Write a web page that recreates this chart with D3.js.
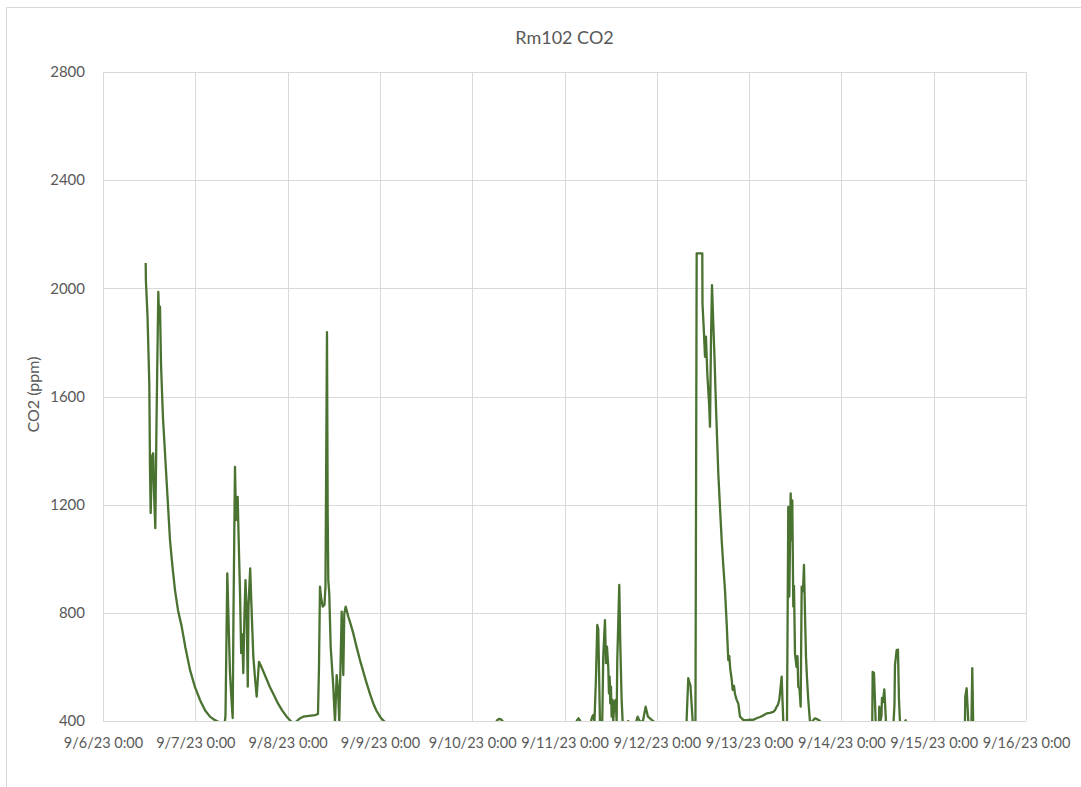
<!DOCTYPE html>
<html>
<head>
<meta charset="utf-8">
<script src="https://cdn.jsdelivr.net/npm/d3@7"></script>
<style>
  html, body { margin: 0; padding: 0; background: #fff; }
  svg { display: block; font-family: Lato, "Open Sans", sans-serif; }
</style>
</head>
<body>
<svg id="chart" width="1081" height="787"></svg>
<script>
// ---- data ----
const chartTitle = "Rm102 CO2";
const yAxisTitle = "CO2 (ppm)";
const startDate = new Date(2023, 8, 6, 0, 0);
const tickDates = ["2023-09-06","2023-09-07","2023-09-08","2023-09-09","2023-09-10","2023-09-11","2023-09-12","2023-09-13","2023-09-14","2023-09-15","2023-09-16"];
const tickLabels = ["9/6/23 0:00","9/7/23 0:00","9/8/23 0:00","9/9/23 0:00","9/10/23 0:00","9/11/23 0:00","9/12/23 0:00","9/13/23 0:00","9/14/23 0:00","9/15/23 0:00","9/16/23 0:00"];
const yTicks = [400, 800, 1200, 1600, 2000, 2400, 2800];

// hours since 9/6/23 0:00
const hours = [
  11.10,11.15,11.57,12.04,12.22,12.40,12.61,12.82,13.05,13.26,13.60,13.91,14.38,14.64,14.82,15.08,15.26,15.60,16.12,16.77,17.42,18.07,18.72,19.50,20.46,21.45,22.62,23.92,25.22,26.52,27.82,28.86,29.98,30.94,
  31.59,31.85,32.32,32.63,33.02,33.41,33.72,33.93,34.32,34.58,35.02,35.28,35.62,35.93,36.22,36.48,36.79,37.05,37.31,37.65,37.83,38.27,38.61,39.08,39.52,39.96,40.56,41.34,42.38,43.42,44.46,45.50,46.54,47.76,48.62,49.14,
  49.53,50.31,51.22,52.08,53.04,54.08,55.12,55.90,56.16,56.42,56.68,57.12,57.59,57.85,58.24,58.42,58.58,58.84,59.20,59.88,60.32,60.76,61.10,61.44,61.75,62.06,62.48,62.74,63.10,63.78,64.35,65.08,65.91,66.82,67.73,68.57,69.42,70.28,71.11,72.02,72.80,73.32,74.10,
  82.42,92.82,101.92,102.44,102.96,103.48,104.00,104.52,113.62,122.72,123.24,123.63,124.02,124.54,
  126.62,127.22,127.48,127.79,128.18,128.52,128.78,129.22,129.82,130.08,130.52,130.78,131.04,131.38,131.56,131.74,131.90,132.08,132.26,132.52,132.68,132.94,133.30,133.56,133.72,134.24,134.50,134.86,135.12,135.72,136.58,137.02,138.58,139.02,139.62,140.40,141.10,141.70,142.67,143.52,144.30,
  150.02,151.71,152.18,152.44,152.75,153.33,153.67,154.05,154.37,155.83,155.88,156.27,156.53,156.79,157.13,157.64,157.83,158.09,158.35,158.69,159.00,159.39,159.99,160.43,160.87,161.29,161.73,162.17,162.59,162.85,163.11,163.42,163.73,164.07,164.33,164.72,165.19,165.63,166.49,167.45,168.23,169.01,169.97,170.83,171.61,172.57,173.43,174.29,174.73,175.17,175.51,175.85,176.16,176.47,176.68,176.89,177.33,177.85,
  178.19,178.45,178.81,179.02,179.23,179.49,179.67,179.93,180.32,180.58,180.79,181.10,181.41,181.67,182.01,182.27,182.53,182.79,183.05,183.39,183.83,184.35,185.13,185.91,186.43,186.95,
  199.43,200.03,200.13,200.47,200.91,201.25,201.77,201.85,202.16,202.42,202.55,202.81,203.15,203.41,203.59,204.11,205.54,205.80,205.93,206.37,206.71,206.97,207.23,207.75,208.53,208.71,208.92,
  223.61,224.13,224.21,224.57,224.78,224.99,225.29,225.82,226.03,226.26,226.60
];
const co2 = [
  2094,2030,1900,1648,1328,1169,1300,1383,1390,1250,1113,1500,1987,1871,1932,1724,1650,1520,1391,1230,1069,970,884,810,749,670,589,525,478,440,416,405,397,385,
  385,420,946,780,577,480,411,800,1340,1143,1229,1069,880,651,720,577,800,921,823,527,823,964,823,640,560,490,619,595,560,525,495,465,440,416,403,395,
  385,399,410,416,418,420,422,426,600,897,860,823,830,900,1838,1169,921,868,675,527,395,570,520,395,600,804,570,798,823,786,760,724,675,625,580,539,500,465,438,416,403,397,385,
  370,370,385,402,408,406,398,385,370,385,402,410,402,385,
  385,416,422,398,560,755,740,397,400,638,773,614,675,601,502,564,465,527,416,478,397,465,478,397,625,903,687,478,397,388,400,388,395,416,397,400,453,416,404,395,385,
  385,390,558,545,531,400,385,390,2129,2129,1944,1833,1747,1821,1685,1562,1488,1809,2012,1870,1747,1562,1316,1190,1069,975,884,760,625,640,590,560,515,530,500,480,465,416,404,403,405,404,410,415,420,428,430,434,440,453,460,478,520,564,480,397,385,390,
  1192,860,1242,1069,1216,823,900,650,600,640,527,520,453,897,880,977,800,638,560,478,397,398,410,405,400,385,
  385,398,582,577,400,385,398,453,400,420,485,470,517,450,398,385,390,460,607,662,664,478,398,385,398,403,385,
  385,398,490,521,460,398,385,398,595,398,385
];

// ---- layout ----
const svg = d3.select("#chart");
const W = 1081, H = 787;
const plot = { left: 103, right: 1026, top: 72, bottom: 721 };
const gridColor = "#d9d9d9";
const textColor = "#595959";
const lineColor = "#4a7230";

svg.append("rect").attr("x", 0).attr("y", 0).attr("width", W).attr("height", H).attr("fill", "#fff");
svg.append("rect").attr("x", 6.5).attr("y", 7.5).attr("width", W + 10).attr("height", H + 10)
  .attr("fill", "none").attr("stroke", gridColor).attr("stroke-width", 1);

const parseDay = d3.timeParse("%Y-%m-%d");
const ticks = tickDates.map(parseDay);

const x = d3.scaleTime().domain([ticks[0], ticks[ticks.length - 1]]).range([plot.left, plot.right]);
const y = d3.scaleLinear().domain([400, 2800]).range([plot.bottom, plot.top]);

// horizontal gridlines + y labels
const yAxis = d3.axisLeft(y).tickValues(yTicks).tickSize(-(plot.right - plot.left)).tickPadding(18).tickFormat(d3.format("d"));
const gy = svg.append("g").attr("transform", `translate(${plot.left},0)`).call(yAxis);
gy.select(".domain").remove();
gy.selectAll(".tick line").attr("stroke", gridColor).attr("shape-rendering", "crispEdges");
gy.selectAll(".tick text").attr("fill", textColor).attr("font-size", "15px").attr("font-family", "Lato, sans-serif");

// vertical gridlines + x labels
const xAxis = d3.axisBottom(x).tickValues(ticks).tickSize(-(plot.bottom - plot.top)).tickPadding(17)
  .tickFormat((d, i) => tickLabels[i]);
const gx = svg.append("g").attr("transform", `translate(0,${plot.bottom})`).call(xAxis);
gx.select(".domain").attr("stroke", gridColor).attr("d", `M${plot.left},0H${plot.right}`).attr("shape-rendering", "crispEdges");
gx.selectAll(".tick line").attr("stroke", gridColor).attr("shape-rendering", "crispEdges");
gx.selectAll(".tick text").attr("fill", textColor).attr("font-size", "14.5px").attr("font-family", "Lato, sans-serif");

// clip
svg.append("clipPath").attr("id", "plotClip").append("rect")
  .attr("x", plot.left).attr("y", plot.top - 2).attr("width", plot.right - plot.left).attr("height", plot.bottom - plot.top + 2);

const points = hours.map((h, i) => ({ t: new Date(startDate.getTime() + h * 3600000), v: co2[i] }));
const line = d3.line().x(d => x(d.t)).y(d => y(d.v));
svg.append("path").datum(points)
  .attr("clip-path", "url(#plotClip)")
  .attr("fill", "none").attr("stroke", lineColor).attr("stroke-width", 2.3).attr("stroke-linejoin", "round")
  .attr("d", line);

// titles
svg.append("text").attr("x", (plot.left + plot.right) / 2).attr("y", 44).attr("text-anchor", "middle")
  .attr("fill", textColor).attr("font-size", "18px").text(chartTitle);
svg.append("text").attr("transform", `translate(39,${(plot.top + plot.bottom) / 2 - 2}) rotate(-90)`)
  .attr("text-anchor", "middle").attr("fill", textColor).attr("font-size", "16px").text(yAxisTitle);
</script>
</body>
</html>
